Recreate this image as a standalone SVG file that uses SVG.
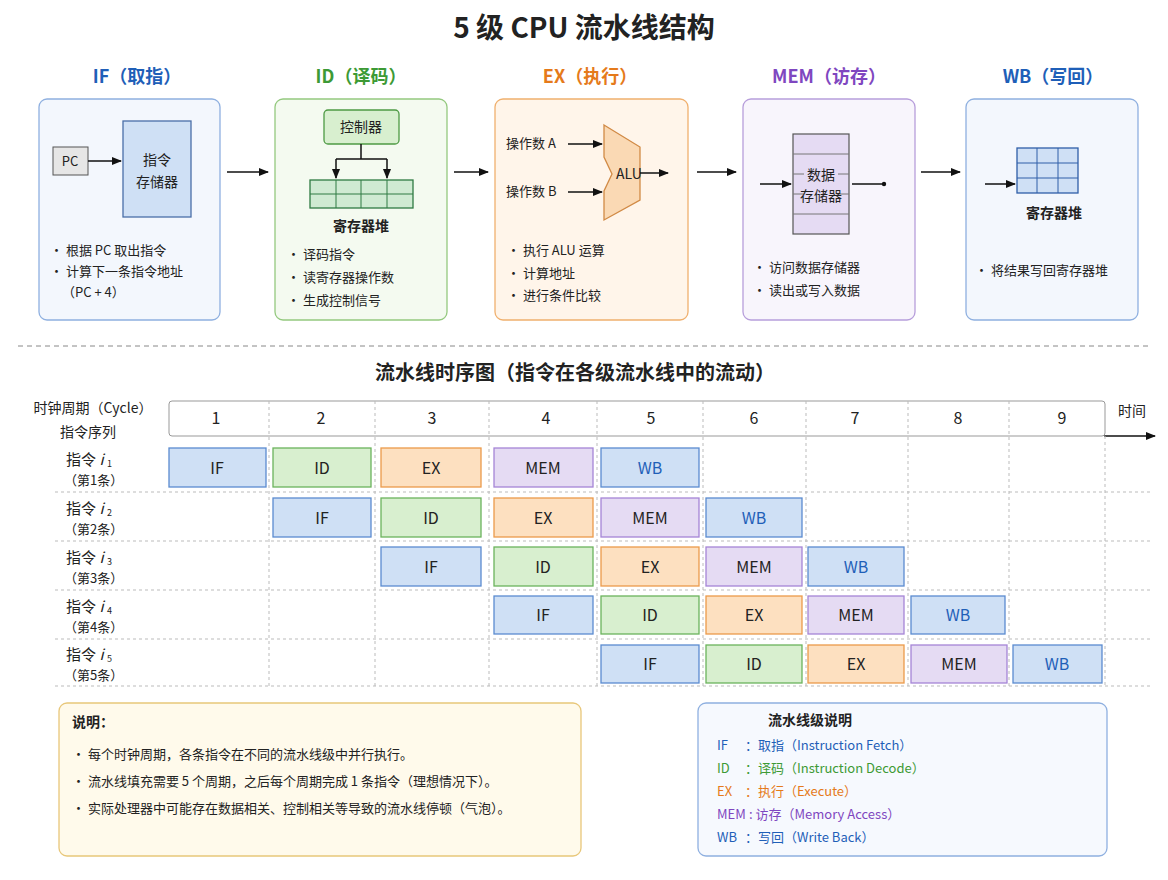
<svg xmlns="http://www.w3.org/2000/svg" width="1168" height="880" viewBox="0 0 1168 880">
<style>
text{font-family:"Noto Sans CJK SC","Noto Sans",sans-serif;fill:#222}
.t{font-size:14px}
.s{font-size:13px}
.c{text-anchor:middle}
.b{font-weight:bold}
.ln{stroke:#111;stroke-width:1.5;fill:none}
.cell{stroke-width:1.3}
.if{fill:#cfe0f5;stroke:#5b8bd0}
.id{fill:#d8efcf;stroke:#6bb35c}
.ex{fill:#fde0c0;stroke:#ec9a4a}
.mem{fill:#e5dbf3;stroke:#a585d6}
.wb{fill:#cfe0f5;stroke:#5b8bd0}
.grid{stroke:#bbb;stroke-dasharray:3 3;stroke-width:1}
.cl{font-size:16px}
.sub{font-size:9px}
</style>
<defs>
<marker id="a" viewBox="0 0 10 10" refX="9" refY="5" markerWidth="7" markerHeight="7" orient="auto"><path d="M0,1 L10,5 L0,9 z" fill="#111"/></marker>
</defs>
<rect width="1168" height="880" fill="#fff"/>
<text x="584" y="38" class="c b" font-size="28">5 级 CPU 流水线结构</text>

<g id="stage-if">
<text x="137" y="83" class="c b" font-size="18" style="fill:#1f5fb8">IF（取指）</text>
<rect x="39" y="99" width="181" height="221" rx="8" fill="#f3f7fd" stroke="#8fb0e0" stroke-width="1.3"/>
<rect x="53" y="147" width="35" height="28" fill="#e6e6e6" stroke="#555"/>
<text x="70" y="166" class="s c">PC</text>
<rect x="123" y="121" width="68" height="96" fill="#cfe0f5" stroke="#4a6fa8" stroke-width="1.3"/>
<text x="157" y="165" class="t c">指令</text>
<text x="157" y="187" class="t c">存储器</text>
<text x="50" y="255" class="s">•  根据 PC 取出指令</text>
<text x="50" y="276" class="s">•  计算下一条指令地址</text>
<text x="62" y="297" class="s">（PC + 4）</text>
</g>
<g id="stage-id">
<text x="361" y="83" class="c b" font-size="18" style="fill:#3d9a35">ID（译码）</text>
<rect x="275" y="99" width="172" height="221" rx="8" fill="#f4faf0" stroke="#94c97f" stroke-width="1.3"/>
<rect x="324" y="110" width="75" height="34" rx="4" fill="#d8efcf" stroke="#4e9a44" stroke-width="1.3"/>
<text x="361" y="132" class="t c">控制器</text>
<rect x="310" y="180" width="103" height="28" fill="#cfead2" stroke="#2f7a43" stroke-width="1.3"/>
<path d="M336,180V208M361,180V208M387,180V208M310,194H413" stroke="#2f7a43" stroke-width="1"/>
<text x="361" y="231" class="t c b">寄存器堆</text>
<text x="287" y="259" class="s">•  译码指令</text>
<text x="287" y="282" class="s">•  读寄存器操作数</text>
<text x="287" y="305" class="s">•  生成控制信号</text>
</g>
<g id="stage-ex">
<text x="590" y="83" class="c b" font-size="18" style="fill:#e57a1a">EX（执行）</text>
<rect x="495" y="99" width="193" height="221" rx="8" fill="#fff5ea" stroke="#f0b06e" stroke-width="1.3"/>
<polygon points="604,125 640,147 640,200 604,220 604,191 612,174 604,157" fill="#fad9b4" stroke="#d18a45" stroke-width="1.3"/>
<text x="629" y="179" class="t c">ALU</text>
<text x="506" y="148" class="s">操作数 A</text>
<text x="506" y="196" class="s">操作数 B</text>
<text x="507" y="255" class="s">•  执行 ALU 运算</text>
<text x="507" y="278" class="s">•  计算地址</text>
<text x="507" y="300" class="s">•  进行条件比较</text>
</g>
<g id="stage-mem">
<text x="829" y="83" class="c b" font-size="18" style="fill:#7f47c0">MEM（访存）</text>
<rect x="743" y="99" width="172" height="221" rx="8" fill="#f8f5fc" stroke="#b79edb" stroke-width="1.3"/>
<rect x="793" y="134" width="56" height="100" fill="#e5dbf3" stroke="#555" stroke-width="1.2"/>
<path d="M793,154H849M793,174H849M793,194H849M793,214H849" stroke="#777" stroke-width="1"/>
<rect x="804" y="163" width="34" height="42" fill="#e5dbf3"/>
<text x="821" y="180" class="t c">数据</text>
<text x="821" y="201" class="t c">存储器</text>
<text x="753" y="272" class="s">•  访问数据存储器</text>
<text x="753" y="295" class="s">•  读出或写入数据</text>
</g>
<g id="stage-wb">
<text x="1053" y="83" class="c b" font-size="18" style="fill:#1f5fb8">WB（写回）</text>
<rect x="966" y="99" width="172" height="221" rx="8" fill="#f3f7fd" stroke="#8fb0e0" stroke-width="1.3"/>
<rect x="1017" y="148" width="61" height="45" fill="#cfe0f5" stroke="#2f5fa8" stroke-width="1.3"/>
<path d="M1037,148V193M1058,148V193M1017,163H1078M1017,178H1078" stroke="#2f5fa8" stroke-width="1"/>
<text x="1054" y="218" class="t c b">寄存器堆</text>
<text x="975" y="275" class="s">•  将结果写回寄存器堆</text>
</g>
<g id="connectors">
<line x1="88" y1="161" x2="121" y2="161" class="ln" marker-end="url(#a)"/>
<line x1="227" y1="172" x2="268" y2="172" class="ln" marker-end="url(#a)"/>
<line x1="454" y1="172" x2="488" y2="172" class="ln" marker-end="url(#a)"/>
<line x1="697" y1="172" x2="736" y2="172" class="ln" marker-end="url(#a)"/>
<line x1="921" y1="172" x2="960" y2="172" class="ln" marker-end="url(#a)"/>
<path d="M361,144V159M336,159H387" class="ln"/>
<line x1="336" y1="159" x2="336" y2="178" class="ln" marker-end="url(#a)"/>
<line x1="387" y1="159" x2="387" y2="178" class="ln" marker-end="url(#a)"/>
<line x1="568" y1="144" x2="602" y2="144" class="ln" marker-end="url(#a)"/>
<line x1="568" y1="192" x2="602" y2="192" class="ln" marker-end="url(#a)"/>
<line x1="640" y1="173" x2="668" y2="173" class="ln" marker-end="url(#a)"/>
<line x1="760" y1="184" x2="791" y2="184" class="ln" marker-end="url(#a)"/>
<line x1="852" y1="184" x2="883" y2="184" class="ln"/>
<circle cx="884" cy="184" r="2.2" fill="#111"/>
<line x1="985" y1="184" x2="1015" y2="184" class="ln" marker-end="url(#a)"/>
<line x1="1104" y1="436" x2="1155" y2="436" class="ln" marker-end="url(#a)"/>
</g>

<line x1="18" y1="346" x2="1150" y2="346" stroke="#888" stroke-dasharray="5 4"/>
<text x="575" y="380" class="c b" font-size="20">流水线时序图（指令在各级流水线中的流动）</text>

<g id="timing">
<text x="93" y="413" class="t c">时钟周期（Cycle）</text>
<text x="88" y="437" class="t c">指令序列</text>
<text x="1132" y="416" class="t c">时间</text>
<rect x="169" y="401" width="936" height="35" rx="3" fill="#fff" stroke="#999"/>
<path d="M269,401V686M375,401V686M489,401V686M597,401V686M703,401V686M806,401V686M908,401V686M1009,401V686M1105,436V686" class="grid"/>
<path d="M55,492H1150M55,541H1150M55,590H1150M55,639H1150M55,686H1150" class="grid"/>
<text x="216" y="424" class="cl c">1</text><text x="321" y="424" class="cl c">2</text><text x="432" y="424" class="cl c">3</text><text x="546" y="424" class="cl c">4</text><text x="651" y="424" class="cl c">5</text><text x="754" y="424" class="cl c">6</text><text x="855" y="424" class="cl c">7</text><text x="958" y="424" class="cl c">8</text><text x="1062" y="424" class="cl c">9</text>
<text x="66" y="465" font-size="15">指令 <tspan font-style="italic">i</tspan></text><text x="107" y="467" class="sub">1</text><text x="64" y="485" class="s">（第1条）</text>
<text x="66" y="514" font-size="15">指令 <tspan font-style="italic">i</tspan></text><text x="107" y="516" class="sub">2</text><text x="64" y="534" class="s">（第2条）</text>
<text x="66" y="563" font-size="15">指令 <tspan font-style="italic">i</tspan></text><text x="107" y="565" class="sub">3</text><text x="64" y="583" class="s">（第3条）</text>
<text x="66" y="612" font-size="15">指令 <tspan font-style="italic">i</tspan></text><text x="107" y="614" class="sub">4</text><text x="64" y="632" class="s">（第4条）</text>
<text x="66" y="660" font-size="15">指令 <tspan font-style="italic">i</tspan></text><text x="107" y="662" class="sub">5</text><text x="64" y="680" class="s">（第5条）</text>
<rect x="169" y="448" width="97" height="39" class="if cell"/><text x="217" y="474" class="cl c">IF</text>
<rect x="273" y="448" width="98" height="39" class="id cell"/><text x="322" y="474" class="cl c">ID</text>
<rect x="381" y="448" width="100" height="39" class="ex cell"/><text x="431" y="474" class="cl c">EX</text>
<rect x="494" y="448" width="99" height="39" class="mem cell"/><text x="543" y="474" class="cl c">MEM</text>
<rect x="601" y="448" width="98" height="39" class="wb cell"/><text x="650" y="474" class="cl c" style="fill:#1f5fb8">WB</text>
<rect x="273" y="498" width="98" height="39" class="if cell"/><text x="322" y="524" class="cl c">IF</text>
<rect x="381" y="498" width="100" height="39" class="id cell"/><text x="431" y="524" class="cl c">ID</text>
<rect x="494" y="498" width="99" height="39" class="ex cell"/><text x="543" y="524" class="cl c">EX</text>
<rect x="601" y="498" width="98" height="39" class="mem cell"/><text x="650" y="524" class="cl c">MEM</text>
<rect x="706" y="498" width="96" height="39" class="wb cell"/><text x="754" y="524" class="cl c" style="fill:#1f5fb8">WB</text>
<rect x="381" y="547" width="100" height="39" class="if cell"/><text x="431" y="573" class="cl c">IF</text>
<rect x="494" y="547" width="99" height="39" class="id cell"/><text x="543" y="573" class="cl c">ID</text>
<rect x="601" y="547" width="98" height="39" class="ex cell"/><text x="650" y="573" class="cl c">EX</text>
<rect x="706" y="547" width="96" height="39" class="mem cell"/><text x="754" y="573" class="cl c">MEM</text>
<rect x="808" y="547" width="96" height="39" class="wb cell"/><text x="856" y="573" class="cl c" style="fill:#1f5fb8">WB</text>
<rect x="494" y="596" width="99" height="38" class="if cell"/><text x="543" y="621" class="cl c">IF</text>
<rect x="601" y="596" width="98" height="38" class="id cell"/><text x="650" y="621" class="cl c">ID</text>
<rect x="706" y="596" width="96" height="38" class="ex cell"/><text x="754" y="621" class="cl c">EX</text>
<rect x="808" y="596" width="96" height="38" class="mem cell"/><text x="856" y="621" class="cl c">MEM</text>
<rect x="911" y="596" width="94" height="38" class="wb cell"/><text x="958" y="621" class="cl c" style="fill:#1f5fb8">WB</text>
<rect x="601" y="645" width="98" height="38" class="if cell"/><text x="650" y="670" class="cl c">IF</text>
<rect x="706" y="645" width="96" height="38" class="id cell"/><text x="754" y="670" class="cl c">ID</text>
<rect x="808" y="645" width="96" height="38" class="ex cell"/><text x="856" y="670" class="cl c">EX</text>
<rect x="911" y="645" width="96" height="38" class="mem cell"/><text x="959" y="670" class="cl c">MEM</text>
<rect x="1013" y="645" width="89" height="38" class="wb cell"/><text x="1057" y="670" class="cl c" style="fill:#1f5fb8">WB</text>
</g>

<g id="notes">
<rect x="59" y="703" width="522" height="153" rx="8" fill="#fffaeb" stroke="#e8c77a" stroke-width="1.3"/>
<text x="72" y="727" class="t b">说明：</text>
<text x="72" y="759" class="s">•  每个时钟周期，各条指令在不同的流水线级中并行执行。</text>
<text x="72" y="786" class="s">•  流水线填充需要 5 个周期，之后每个周期完成 1 条指令（理想情况下）。</text>
<text x="72" y="813" class="s">•  实际处理器中可能存在数据相关、控制相关等导致的流水线停顿（气泡）。</text>
</g>
<g id="legend">
<rect x="698" y="703" width="409" height="153" rx="8" fill="#f6f9fe" stroke="#8fb0e0" stroke-width="1.3"/>
<text x="810" y="725" class="t c b">流水线级说明</text>
<text x="717" y="750" class="s" style="fill:#1f5fb8">IF</text><text x="745" y="750" class="s" style="fill:#1f5fb8">：取指（Instruction Fetch）</text>
<text x="717" y="773" class="s" style="fill:#3d9a35">ID</text><text x="745" y="773" class="s" style="fill:#3d9a35">：译码（Instruction Decode）</text>
<text x="717" y="796" class="s" style="fill:#e57a1a">EX</text><text x="745" y="796" class="s" style="fill:#e57a1a">：执行（Execute）</text>
<text x="717" y="819" class="s" style="fill:#7f47c0">MEM</text><text x="749" y="819" class="s" style="fill:#7f47c0">: 访存（Memory Access）</text>
<text x="717" y="842" class="s" style="fill:#1f5fb8">WB</text><text x="745" y="842" class="s" style="fill:#1f5fb8">：写回（Write Back）</text>
</g>
</svg>
